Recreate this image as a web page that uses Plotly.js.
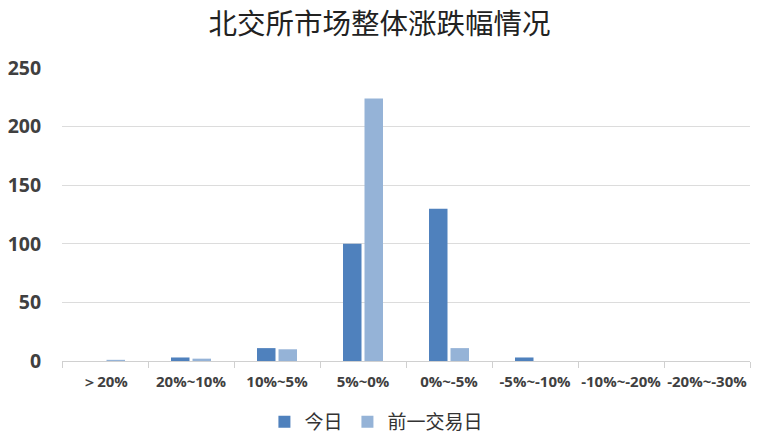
<!DOCTYPE html>
<html>
<head>
<meta charset="utf-8">
<script src="https://cdn.plot.ly/plotly-3.0.1.min.js"></script>
<style>html,body{margin:0;padding:0;background:#fff;}#chart{width:759px;height:445px;}</style>
</head>
<body>
<div id="chart"></div>
<script>
var categories = ["＞20%", "20%~10%", "10%~5%", "5%~0%", "0%~-5%", "-5%~-10%", "-10%~-20%", "-20%~-30%"];
var todayValues = [0, 3, 11, 100, 130, 3, 0, 0];
var prevValues = [1, 2, 10, 224, 11, 0, 0, 0];
var seriesNames = ["今日", "前一交易日"];
var yTicks = [0, 50, 100, 150, 200, 250];

var traces = [
  {type: "bar", name: seriesNames[0], x: categories, y: todayValues,
   marker: {color: "#4f81bd", line: {width: 0}}},
  {type: "bar", name: seriesNames[1], x: categories, y: prevValues,
   marker: {color: "#95b3d7", line: {width: 0}}}
];

var layout = {
  width: 759, height: 445,
  margin: {l: 62, r: 9, t: 68, b: 84},
  paper_bgcolor: "#ffffff", plot_bgcolor: "#ffffff",
  title: {text: "北交所市场整体涨跌幅情况", x: 0.5, xanchor: "center", y: 0.945, yanchor: "middle",
          font: {family: "Noto Sans CJK SC", size: 28.5, color: "#222222"}},
  bargap: 0.5, bargroupgap: 0.14,
  showlegend: true,
  legend: {orientation: "h", xref: "paper", x: 0.457, xanchor: "center", yref: "container", y: 0.052, yanchor: "middle",
           font: {family: "Noto Sans CJK SC", size: 19, color: "#333333"}, itemwidth: 30, traceorder: "normal"},
  xaxis: {type: "category", automargin: false, showgrid: false, showline: true, linecolor: "#d0d0d0", linewidth: 1,
          ticks: "outside", tickson: "boundaries", ticklen: 6, tickcolor: "#d0d0d0", ticklabelstandoff: 7,
          tickangle: 0,
          tickfont: {family: "Open Sans", size: 15, color: "#404040", weight: "bold"}, zeroline: false},
  yaxis: {range: [0, 250], automargin: false, tickvals: yTicks, showgrid: true, gridcolor: "#dcdcdc", gridwidth: 1,
          zeroline: false, showline: false, ticks: "outside", ticklen: 16, tickcolor: "rgba(0,0,0,0)",
          tickfont: {family: "Open Sans", size: 19.5, color: "#404040", weight: "bold"}}
};

Plotly.newPlot("chart", traces, layout, {displayModeBar: false, staticPlot: true});
</script>
</body>
</html>
